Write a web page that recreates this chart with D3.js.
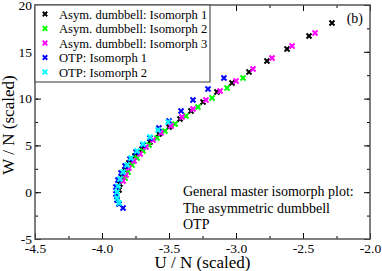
<!DOCTYPE html>
<html>
<head>
<meta charset="utf-8">
<script src="https://cdn.jsdelivr.net/npm/d3@7"></script>
<style>
body { margin: 0; background: #fff; }
svg text { font-family: "Liberation Serif", "Times New Roman", "DejaVu Serif", serif; }
</style>
</head>
<body>
<svg id="chart" width="382" height="271"></svg>
<script>
// series values, [U/N, W/N]
var asym1 = [[-2.284,18.08],[-2.455,16.69],[-2.619,15.30],[-2.769,14.02],[-2.903,12.84],[-3.030,11.67],
  [-3.142,10.71],[-3.246,9.64],[-3.336,8.68],[-3.418,7.82],[-3.500,6.97],[-3.575,6.22],[-3.642,5.36],
  [-3.701,4.62],[-3.754,3.87],[-3.799,3.12],[-3.828,2.37],[-3.851,1.62],[-3.866,0.88],[-3.873,0.24]];
var asym2 = [[-2.948,12.20],[-3.067,11.13],[-3.179,10.06],[-3.284,9.10],[-3.373,8.14],[-3.455,7.29],
  [-3.530,6.54],[-3.590,5.79],[-3.649,5.04],[-3.694,4.40],[-3.739,3.65],[-3.776,2.91],[-3.806,2.16],[-3.828,1.52]];
var asym3 = [[-2.410,17.01],[-2.582,15.62],[-2.731,14.34],[-2.873,13.16],[-3.000,11.88],[-3.119,10.81],
  [-3.224,9.85],[-3.321,8.89],[-3.403,8.03],[-3.485,7.07],[-3.560,6.32],[-3.619,5.58],[-3.672,4.83],
  [-3.716,4.08],[-3.761,3.33],[-3.799,2.59],[-3.821,1.84],[-3.843,1.20]];
var otp1 = [[-3.090,12.20],[-3.209,11.03],[-3.321,9.85],[-3.410,8.68],[-3.500,7.61],[-3.575,6.86],
  [-3.642,5.79],[-3.694,5.04],[-3.746,4.29],[-3.791,3.55],[-3.828,2.80],[-3.858,2.05],[-3.881,1.30],
  [-3.896,0.56],[-3.896,-0.19],[-3.888,-0.83],[-3.873,-1.26],[-3.843,-1.69]];
var otp2 = [[-3.507,7.50],[-3.582,6.65],[-3.642,5.90],[-3.694,5.15],[-3.739,4.40],[-3.784,3.65],
  [-3.813,2.91],[-3.843,2.16],[-3.866,1.41],[-3.881,0.65],[-3.888,0.02],[-3.888,-0.62],[-3.873,-1.15]];

var seriesNames = ["Asym. dumbbell: Isomorph 1","Asym. dumbbell: Isomorph 2","Asym. dumbbell: Isomorph 3",
  "OTP: Isomorph 1","OTP: Isomorph 2"];
var seriesColors = ["#000000","#00ff00","#ff00ff","#0000ff","#00ffff"];
var allSeries = [asym1, asym2, asym3, otp1, otp2];

var xTicks = [-4.5,-4.0,-3.5,-3.0,-2.5,-2.0];
var yTicks = [-5,0,5,10,15,20];
var noteLines = ["General master isomorph plot:","The asymmetric dumbbell","OTP"];

var svg = d3.select("#chart"),
    margin = {top: 5, right: 12, bottom: 32, left: 35},
    iwidth = +svg.attr("width") - margin.left - margin.right,
    iheight = +svg.attr("height") - margin.top - margin.bottom,
    g = svg.append("g").attr("transform", "translate(" + margin.left + "," + margin.top + ")");

var x = d3.scaleLinear().domain([-4.5, -2.0]).range([0, iwidth]);
var y = d3.scaleLinear().domain([-5, 20]).range([iheight, 0]);

var xMinor = d3.range(-4.5, -2.0001, 0.25);
var yMinor = d3.range(-5, 20.001, 2.5);

function styleAxis(sel){
  sel.select(".domain").remove();
  sel.selectAll("line").attr("stroke", "#000");
}

// minor ticks all four sides
g.append("g").attr("transform", "translate(0," + iheight + ")")
  .call(d3.axisBottom(x).tickValues(xMinor).tickSize(-3).tickFormat("")).call(styleAxis);
g.append("g")
  .call(d3.axisTop(x).tickValues(xMinor).tickSize(-3).tickFormat("")).call(styleAxis);
g.append("g")
  .call(d3.axisLeft(y).tickValues(yMinor).tickSize(-3).tickFormat("")).call(styleAxis);
g.append("g").attr("transform", "translate(" + iwidth + ",0)")
  .call(d3.axisRight(y).tickValues(yMinor).tickSize(-3).tickFormat("")).call(styleAxis);

// major ticks
var xb = g.append("g").attr("transform", "translate(0," + iheight + ")")
  .call(d3.axisBottom(x).tickValues(xTicks).tickSize(-6).tickPadding(4));
xb.call(styleAxis);
xb.selectAll("text").attr("font-size", 13.5).attr("fill", "#000")
  .text(function(d){ return d3.format(".1f")(d).replace("−","-"); });
g.append("g").call(d3.axisTop(x).tickValues(xTicks).tickSize(-6).tickFormat("")).call(styleAxis);

var yl = g.append("g")
  .call(d3.axisLeft(y).tickValues(yTicks).tickSize(-6).tickPadding(3));
yl.call(styleAxis);
yl.selectAll("text").attr("font-size", 13.5).attr("fill", "#000")
  .text(function(d){ return String(d); });
g.append("g").attr("transform", "translate(" + iwidth + ",0)")
  .call(d3.axisRight(y).tickValues(yTicks).tickSize(-6).tickFormat("")).call(styleAxis);

// frame
g.append("rect").attr("width", iwidth).attr("height", iheight)
  .attr("fill", "none").attr("stroke", "#555").attr("stroke-width", 1.5);

// axis titles
svg.append("text").attr("x", margin.left + iwidth / 2).attr("y", 268)
  .attr("text-anchor", "middle").attr("font-size", 17).text("U / N (scaled)");
svg.append("text").attr("transform", "translate(14,125) rotate(-90)")
  .attr("text-anchor", "middle").attr("font-size", 17).text("W / N (scaled)");

function cross(s){
  var h = s / 2;
  return "M" + (-h) + "," + (-h) + "L" + h + "," + h + "M" + (-h) + "," + h + "L" + h + "," + (-h);
}

// data marks
allSeries.forEach(function(arr, i){
  g.append("g").selectAll("path").data(arr).enter().append("path")
    .attr("transform", function(d){ return "translate(" + x(d[0]) + "," + y(d[1]) + ")"; })
    .attr("d", cross(5))
    .attr("stroke", seriesColors[i])
    .attr("stroke-width", 2)
    .attr("fill", "none");
});

// legend
var leg = g.append("g");
leg.append("rect").attr("x", 0).attr("y", 0).attr("width", 175).attr("height", 77)
  .attr("fill", "#fff").attr("stroke", "#555").attr("stroke-width", 1.2);
seriesNames.forEach(function(name, i){
  var yy = 9 + i * 14.5;
  leg.append("path").attr("transform", "translate(10," + yy + ")").attr("d", cross(4.5))
    .attr("stroke", seriesColors[i]).attr("stroke-width", 1.8).attr("fill", "none");
  leg.append("text").attr("x", 24).attr("y", yy + 4.5).attr("font-size", 12.6).text(name);
});

// annotations
g.append("text").attr("x", iwidth - 7).attr("y", 18).attr("text-anchor", "end")
  .attr("font-size", 14).text("(b)");
noteLines.forEach(function(t, i){
  g.append("text").attr("x", 148).attr("y", 191 + i * 16.5).attr("font-size", 14).text(t);
});
</script>
</body>
</html>
